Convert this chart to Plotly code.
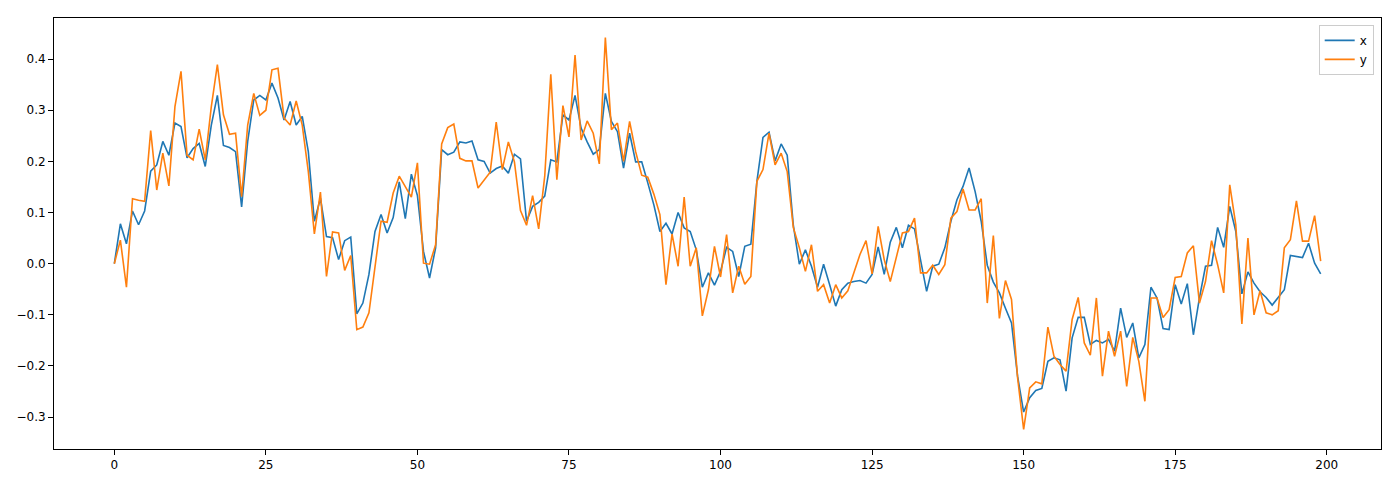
import plotly.graph_objects as go

x_vals = [
    0, 0.078, 0.039, 0.103, 0.076, 0.103, 0.181, 0.193, 0.239, 0.212,
    0.275, 0.268, 0.207, 0.225, 0.235, 0.19, 0.271, 0.329, 0.231, 0.227,
    0.219, 0.111, 0.239, 0.32, 0.329, 0.320, 0.353, 0.324, 0.281, 0.317,
    0.271, 0.288, 0.219, 0.083, 0.128, 0.053, 0.051, 0.008, 0.045, 0.052,
    -0.098, -0.077, -0.021, 0.063, 0.096, 0.06, 0.09, 0.16, 0.088, 0.175,
    0.133, 0.024, -0.028, 0.031, 0.223, 0.213, 0.218, 0.238, 0.236, 0.24,
    0.203, 0.2, 0.177, 0.186, 0.191, 0.177, 0.214, 0.205, 0.083, 0.112,
    0.12, 0.132, 0.203, 0.199, 0.291, 0.281, 0.329, 0.265, 0.238, 0.214,
    0.223, 0.333, 0.278, 0.258, 0.187, 0.255, 0.199, 0.199, 0.158, 0.115,
    0.063, 0.079, 0.058, 0.1, 0.07, 0.063, 0.027, -0.046, -0.018, -0.042,
    -0.015, 0.032, 0.024, -0.025, 0.034, 0.038, 0.161, 0.247, 0.257, 0.201,
    0.234, 0.212, 0.076, -0.001, 0.027, -0.005, -0.046, -0.001, -0.041, -0.083,
    -0.051, -0.038, -0.035, -0.033, -0.038, -0.021, 0.033, -0.021, 0.042, 0.071,
    0.031, 0.075, 0.068, 0.008, -0.054, -0.005, -0.001, 0.031, 0.083, 0.125,
    0.151, 0.187, 0.141, 0.083, -0.003, -0.036, -0.057, -0.087, -0.116, -0.22,
    -0.29, -0.262, -0.248, -0.244, -0.191, -0.184, -0.188, -0.249, -0.145, -0.105,
    -0.105, -0.158, -0.15, -0.155, -0.148, -0.171, -0.087, -0.144, -0.116, -0.184,
    -0.158, -0.046, -0.067, -0.127, -0.129, -0.041, -0.079, -0.039, -0.139, -0.067,
    -0.005, -0.003, 0.071, 0.032, 0.112, 0.063, -0.059, -0.016, -0.038, -0.055,
    -0.066, -0.081, -0.067, -0.051, 0.016, 0.014, 0.012, 0.04, 0.001, -0.02,
]

y_vals = [
    0, 0.046, -0.046, 0.127, 0.124, 0.122, 0.26, 0.144, 0.216, 0.152,
    0.307, 0.376, 0.212, 0.203, 0.263, 0.203, 0.307, 0.389, 0.291, 0.253,
    0.255, 0.131, 0.271, 0.333, 0.29, 0.30, 0.379, 0.382, 0.285, 0.271,
    0.318, 0.271, 0.18, 0.058, 0.14, -0.025, 0.062, 0.06, -0.013, 0.016,
    -0.129, -0.124, -0.096, -0.002, 0.083, 0.081, 0.138, 0.171, 0.151, 0.13,
    0.197, 0.001, -0.001, 0.037, 0.234, 0.266, 0.273, 0.206, 0.201, 0.201,
    0.148, 0.164, 0.179, 0.277, 0.184, 0.238, 0.199, 0.104, 0.075, 0.133,
    0.068, 0.171, 0.37, 0.164, 0.309, 0.248, 0.408, 0.242, 0.279, 0.255,
    0.195, 0.442, 0.262, 0.275, 0.2, 0.278, 0.219, 0.173, 0.169, 0.136,
    0.096, -0.041, 0.058, -0.005, 0.13, -0.005, 0.031, -0.102, -0.051, 0.034,
    -0.026, 0.057, -0.057, -0.005, -0.04, -0.025, 0.161, 0.184, 0.255, 0.193,
    0.216, 0.18, 0.071, 0.031, -0.015, 0.037, -0.054, -0.041, -0.077, -0.041,
    -0.067, -0.053, -0.018, 0.018, 0.045, -0.02, 0.073, 0.008, -0.035, 0.014,
    0.06, 0.063, 0.089, -0.018, -0.018, -0.003, -0.021, -0.002, 0.089, 0.102,
    0.146, 0.105, 0.105, 0.127, -0.077, 0.055, -0.107, -0.033, -0.07, -0.223,
    -0.324, -0.243, -0.231, -0.235, -0.124, -0.181, -0.197, -0.21, -0.109, -0.066,
    -0.155, -0.179, -0.067, -0.22, -0.132, -0.181, -0.132, -0.24, -0.144, -0.191,
    -0.269, -0.067, -0.067, -0.105, -0.09, -0.027, -0.025, 0.021, 0.035, -0.077,
    -0.035, 0.045, -0.002, -0.057, 0.154, 0.076, -0.118, 0.05, -0.1, -0.053,
    -0.096, -0.1, -0.092, 0.031, 0.047, 0.123, 0.044, 0.044, 0.094, 0.005,
]

index = list(range(len(x_vals)))
x_ticks = [0, 25, 50, 75, 100, 125, 150, 175, 200]
y_ticks = [-0.3, -0.2, -0.1, 0.0, 0.1, 0.2, 0.3, 0.4]

fig = go.Figure()
fig.add_trace(go.Scatter(x=index, y=x_vals, mode="lines", name="x",
                         line=dict(color="#1f77b4", width=1.6)))
fig.add_trace(go.Scatter(x=index, y=y_vals, mode="lines", name="y",
                         line=dict(color="#ff7f0e", width=1.6)))

n = len(index) - 1
ymin = min(min(x_vals), min(y_vals))
ymax = max(max(x_vals), max(y_vals))
pad = (ymax - ymin) * 0.05

axis_common = dict(
    showgrid=False, zeroline=False, showline=True, linecolor="#000000",
    linewidth=1, mirror=True, ticks="outside", ticklen=5, tickwidth=1,
    tickcolor="#000000", tickfont=dict(family="DejaVu Sans", size=12, color="#000000"),
)

fig.update_layout(
    width=1400, height=488,
    margin=dict(l=54, r=19, t=18, b=39),
    paper_bgcolor="white", plot_bgcolor="white",
    xaxis=dict(range=[-0.05 * n, n * 1.05], tickvals=x_ticks, **axis_common),
    yaxis=dict(range=[ymin - pad, ymax + pad], tickvals=y_ticks,
               tickformat=".1f", **axis_common),
    legend=dict(x=0.9945, y=0.984, xanchor="right", yanchor="top",
                bgcolor="rgba(255,255,255,0.8)", bordercolor="#cccccc", borderwidth=1,
                font=dict(family="DejaVu Sans", size=12, color="#000000"),
                itemwidth=30, tracegroupgap=2),
    showlegend=True,
)

fig.write_html("out.html", config={"displayModeBar": False},
               post_script="document.body.style.margin='0';")
